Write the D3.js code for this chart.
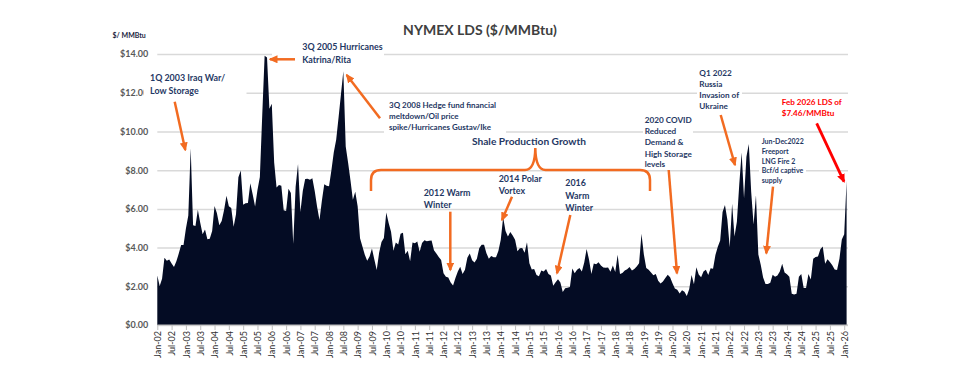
<!DOCTYPE html>
<html><head><meta charset="utf-8">
<script src="https://cdn.jsdelivr.net/npm/d3@7"></script>
<style>
body{margin:0;background:#fff;}
svg{display:block;}
text{font-family:Lato,"Open Sans",sans-serif;}
</style>
</head><body>
<svg id="chart" width="960" height="378"></svg>
<script>
// ---------------- DATA ----------------
const years = [2002,2003,2004,2005,2006,2007,2008,2009,2010,2011,2012,2013,2014,2015,2016,2017,2018,2019,2020,2021,2022,2023,2024,2025,2026];
const monthNames = ["Jan","Feb","Mar","Apr","May","Jun","Jul","Aug","Sep","Oct","Nov","Dec"];
// NYMEX last-day settlement, $/MMBtu, monthly Jan-02 .. Feb-26
const values = [
 2.56,2.01,2.39,3.47,3.32,3.38,3.18,3.00,3.29,3.69,4.13,4.14,
 4.99,5.66,9.13,5.15,5.12,5.95,5.29,4.69,4.93,4.43,4.46,4.86,
 6.15,5.78,5.15,5.37,5.94,6.68,6.14,6.05,5.08,5.72,7.63,7.98,
 6.21,6.29,6.30,7.32,6.75,6.12,6.98,7.65,10.85,13.91,13.83,11.18,
 11.43,8.40,7.11,7.23,7.20,5.93,5.89,7.04,6.82,4.20,7.15,8.32,
 5.84,6.92,7.55,7.56,7.51,7.59,6.93,6.11,5.43,6.42,7.27,7.20,
 7.17,8.00,8.93,9.58,10.73,11.92,13.11,9.22,8.39,7.47,6.47,6.89,
 6.14,4.48,4.06,3.63,3.32,3.54,3.95,3.38,2.84,3.73,4.29,4.49,
 5.81,5.27,4.82,3.84,4.27,4.16,4.72,4.77,3.65,3.84,3.29,4.27,
 4.22,4.32,3.79,4.24,4.38,4.33,4.36,4.37,3.86,3.69,3.52,3.36,
 2.67,2.50,2.45,2.19,2.04,2.43,2.77,3.01,2.63,2.86,3.47,3.70,
 3.35,3.23,3.43,3.98,4.15,4.15,3.71,3.43,3.57,3.50,3.50,3.82,
 4.41,5.56,4.86,4.58,4.80,4.62,4.40,3.81,3.96,3.98,3.73,4.28,
 3.19,2.87,2.89,2.59,2.52,2.82,2.77,2.89,2.64,2.56,2.03,2.21,
 2.37,2.19,1.71,1.90,1.92,1.96,2.92,2.67,2.85,2.95,2.76,3.23,
 3.93,3.39,2.63,3.18,3.14,3.24,3.07,2.97,2.96,2.97,2.75,3.07,
 2.74,3.63,2.64,2.69,2.82,2.88,3.00,2.82,2.90,3.02,3.19,4.72,
 3.64,2.95,2.86,2.71,2.57,2.63,2.29,2.14,2.25,2.43,2.60,2.47,
 2.16,1.88,1.82,1.63,1.79,1.72,1.50,1.85,2.58,2.10,2.98,2.61,
 2.47,2.76,2.85,2.59,2.93,2.91,3.62,4.04,4.37,5.84,6.20,5.45,
 4.02,6.27,4.57,5.34,7.27,8.91,6.55,8.69,9.35,6.87,5.19,6.71,
 3.64,3.11,2.45,2.12,2.12,2.18,2.60,2.49,2.56,2.76,3.16,2.71,
 2.62,2.49,1.62,1.58,1.61,2.49,2.63,1.91,1.91,2.63,2.35,3.43,
 3.51,3.54,3.91,4.06,3.17,3.40,3.26,3.09,2.87,2.84,3.43,4.42,
 4.69,7.46
];
const tickLabels = ["Jan-02","Jul-02","Jan-03","Jul-03","Jan-04","Jul-04","Jan-05","Jul-05","Jan-06","Jul-06",
 "Jan-07","Jul-07","Jan-08","Jul-08","Jan-09","Jul-09","Jan-10","Jul-10","Jan-11","Jul-11","Jan-12","Jul-12",
 "Jan-13","Jul-13","Jan-14","Jul-14","Jan-15","Jul-15","Jan-16","Jul-16","Jan-17","Jul-17","Jan-18","Jul-18",
 "Jan-19","Jul-19","Jan-20","Jul-20","Jan-21","Jul-21","Jan-22","Jul-22","Jan-23","Jul-23","Jan-24","Jul-24",
 "Jan-25","Jul-25","Jan-26"];
const yTicks = [0,2,4,6,8,10,12,14];

const categories = [];
years.forEach(y => monthNames.forEach(m => categories.push(m + "-" + String(y).slice(2))));
categories.length = values.length;

// ---------------- LAYOUT ----------------
const svg = d3.select("#chart");
const L = 157.3, R = 848, B = 325, T = 54.1;
const x = d3.scalePoint().domain(categories).range([L, 846.6]);
const y = d3.scaleLinear().domain([0, 14]).range([B, T]);

const orange = "#f26b21", navy = "#1f3864", red = "#ff0000";

svg.append("rect").attr("width",960).attr("height",378).attr("fill","#fff");

// gridlines + y labels
const yAxis = svg.append("g").attr("transform", `translate(${L},0)`)
  .call(d3.axisLeft(y).tickValues(yTicks).tickSize(-(R - L)).tickPadding(9)
        .tickFormat(d => "$" + d.toFixed(2)));
yAxis.select(".domain").remove();
yAxis.selectAll("line").attr("stroke", "#d9d9d9").attr("stroke-width", 1.5);
yAxis.selectAll("text").attr("fill", "#595959").attr("font-size", 9).attr("font-weight", 700)
  .attr("font-family", "Lato");

// area
svg.append("path").datum(values)
  .attr("fill", "#040c24")
  .attr("d", d3.area().x((d, i) => x(categories[i])).y0(y(0)).y1(d => y(d)));

// x axis
const xAxis = svg.append("g").attr("transform", `translate(0,${B})`)
  .call(d3.axisBottom(x).tickValues(tickLabels).tickSize(5).tickSizeOuter(0));
xAxis.select(".domain").attr("stroke", "#bfbfbf").attr("d", `M${L},0H${R}`);
xAxis.selectAll("line").attr("stroke", "#bfbfbf");
xAxis.selectAll("text")
  .attr("fill", "#333333").attr("font-size", 9).attr("font-family", "Lato")
  .attr("text-anchor", "end")
  .attr("transform", "rotate(-90)")
  .attr("x", -6).attr("y", 0).attr("dy", "0.35em");

// title and unit
svg.append("text").attr("x", 480).attr("y", 35).attr("text-anchor", "middle")
  .attr("font-size", 14).attr("font-weight", 700).attr("fill", "#404040")
  .text("NYMEX LDS ($/MMBtu)");
svg.append("text").attr("x", 112.5).attr("y", 38).attr("font-size", 7).attr("font-weight", 700)
  .attr("fill", "#1a2440").text("$/ MMBtu");

// white boxes hiding gridlines behind text boxes
const boxes = [
  [143.5, 68, 103, 30],
  [272, 40, 112, 26],
  [384, 97, 122, 39],
  [643, 114, 50, 54],
  [697, 66, 45, 46],
  [759, 136, 47, 50]
];
svg.append("g").selectAll("rect").data(boxes).join("rect")
  .attr("x", d => d[0]).attr("y", d => d[1]).attr("width", d => d[2]).attr("height", d => d[3])
  .attr("fill", "#fff");

// annotation text
const notes = [
  {x:150, y:[78,91], fs:8.9, lines:["1Q 2003 Iraq War/","Low Storage"]},
  {x:302.3, y:[47.3,60], fs:8.9, lines:["3Q 2005 Hurricanes","Katrina/Rita"]},
  {x:389, y:[105,116.5,127.5], fs:8, lines:["3Q 2008 Hedge fund financial","meltdown/Oil price","spike/Hurricanes Gustav/Ike"]},
  {x:423.7, y:[192.7,205], fs:8.9, lines:["2012 Warm","Winter"]},
  {x:498.7, y:[179.3,191], fs:8.9, lines:["2014 Polar","Vortex"]},
  {x:565.3, y:[183.3,195.7,208.3], fs:8.9, lines:["2016","Warm","Winter"]},
  {x:644.7, y:[120,131.3,142.5,153.7,164.3], fs:8.2, lines:["2020 COVID","Reduced","Demand &","High Storage","levels"]},
  {x:699.3, y:[73.3,84,95,106], fs:8.2, lines:["Q1 2022","Russia","Invasion of","Ukraine"]},
  {x:761.7, y:[141.7,151.7,161.2,171,180.7], fs:7, lines:["Jun-Dec2022","Freeport","LNG Fire 2","Bcf/d captive","supply"]},
  {x:781.7, y:[102.3,113.3], fs:8.1, lines:["Feb 2026 LDS of","$7.46/MMBtu"], color:red}
];
notes.forEach(n => {
  const t = svg.append("text").attr("font-size", n.fs).attr("font-weight", 700)
    .attr("fill", n.color || navy);
  n.lines.forEach((ln, i) => t.append("tspan").attr("x", n.x).attr("y", n.y[i]).attr("dy", "0.35em").text(ln));
});
svg.append("text").attr("x", 529).attr("y", 141).attr("dy", "0.35em").attr("text-anchor", "middle")
  .attr("font-size", 10.2).attr("font-weight", 700).attr("fill", navy).text("Shale Production Growth");

// arrows
const defs = svg.append("defs");
[["ah-o", orange], ["ah-r", red]].forEach(([id, c]) => {
  defs.append("marker").attr("id", id).attr("viewBox", "0 0 9 8").attr("refX", 7.5).attr("refY", 4)
    .attr("markerWidth", 9).attr("markerHeight", 8).attr("markerUnits", "userSpaceOnUse").attr("orient", "auto")
    .append("path").attr("d", "M0,0 L9,4 L0,8 z").attr("fill", c);
});
const arrows = [
  [174.7,101.7,185.3,150, "o"],
  [295,59.3,270,59.3, "o"],
  [380,118.3,346.7,75, "o"],
  [450.3,211.7,450.3,270, "o"],
  [512,196.7,502,220, "o"],
  [570.3,215,557,273.3, "o"],
  [668.7,170,677,273.3, "o"],
  [720.7,115,735,165, "o"],
  [773,186.7,766.3,253.3, "o"],
  [816.7,123.3,844,181.7, "r"]
];
svg.append("g").selectAll("line").data(arrows).join("line")
  .attr("x1", d => d[0]).attr("y1", d => d[1]).attr("x2", d => d[2]).attr("y2", d => d[3])
  .attr("stroke", d => d[4] === "r" ? red : orange)
  .attr("stroke-width", d => d[4] === "r" ? 2.8 : 2.5)
  .attr("marker-end", d => d[4] === "r" ? "url(#ah-r)" : "url(#ah-o)");

// brace
svg.append("path")
  .attr("d", "M371,191 V180 Q371,170 381,170 H525 Q535,170 535.3,148 Q535.6,170 545.6,170 H640 Q650,170 650,180 V191")
  .attr("fill", "none").attr("stroke", orange).attr("stroke-width", 2.5);
</script>
</body></html>
